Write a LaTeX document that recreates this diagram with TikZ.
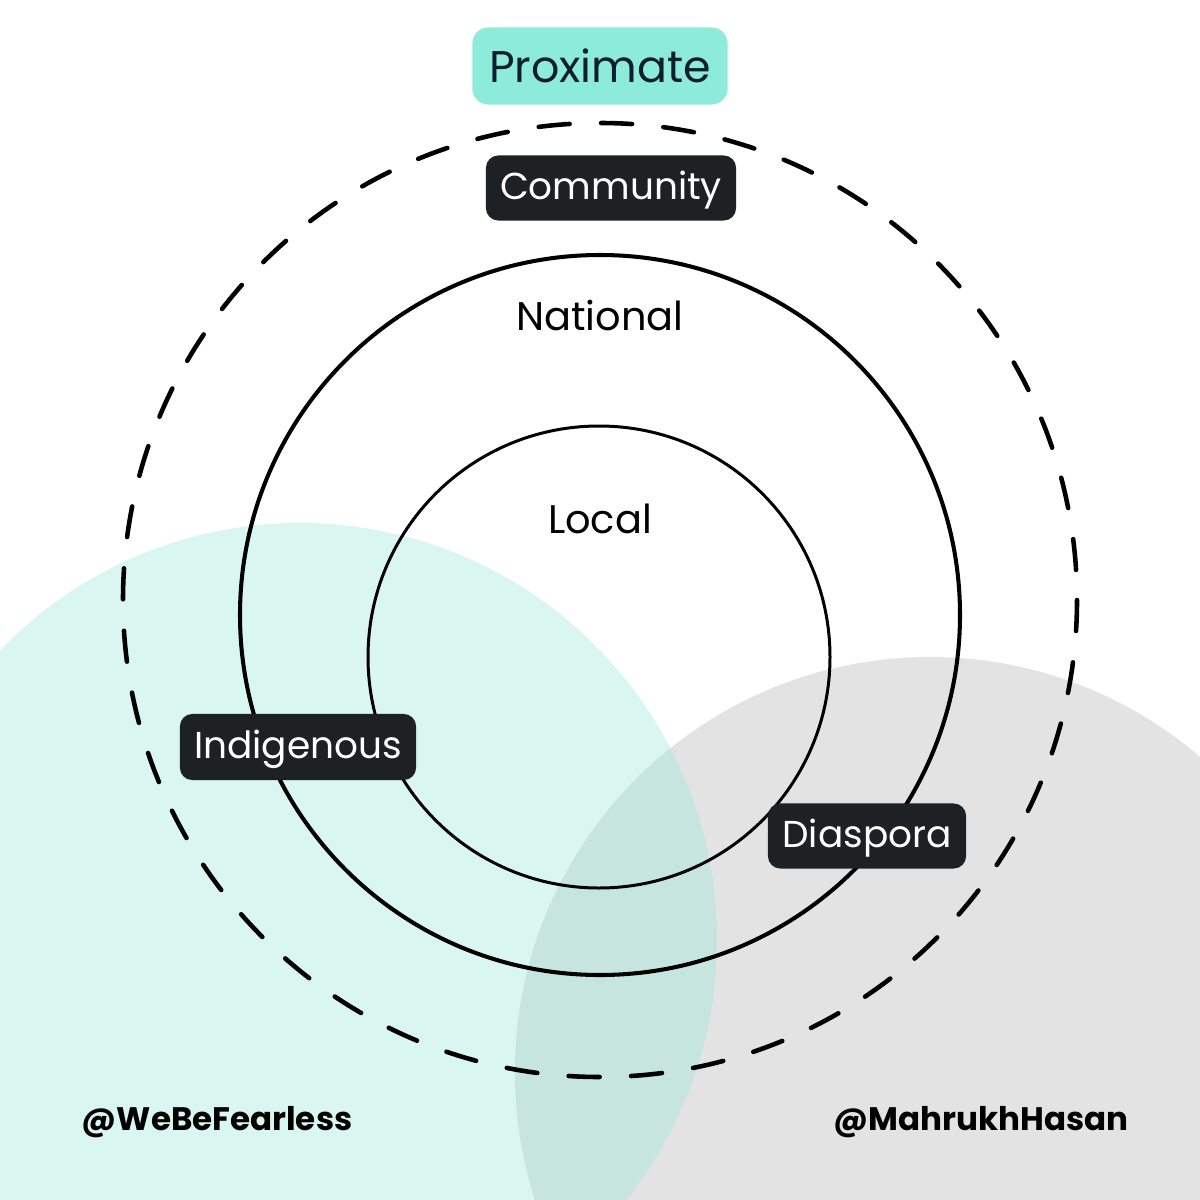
\documentclass[tikz,border=0pt]{standalone}
\usepackage{fontspec}
\setmainfont{Poppins}
\begin{document}
\begin{tikzpicture}[x=0.01cm,y=-0.01cm,
  darkbox/.style={fill=boxblack,text=white,rounded corners=3.5pt,inner sep=0pt,text height=0.9em,text depth=0.26em,font=\fontsize{10.65}{13}\selectfont},
  plain/.style={inner sep=0pt,font=\fontsize{11.35}{14}\selectfont},
  handle/.style={inner sep=0pt,font=\fontsize{9.25}{12}\selectfont\bfseries}]
\definecolor{tealbg}{HTML}{D9F6F1}
\definecolor{graybg}{HTML}{E3E3E3}
\definecolor{overlap}{HTML}{C6E5DF}
\definecolor{boxblack}{HTML}{1E2124}
\definecolor{proxfill}{HTML}{8DEBD9}
\definecolor{proxtext}{HTML}{0E1E2C}
\useasboundingbox (0,0) rectangle (1200,1200);
\begin{scope}
\clip (0,0) rectangle (1200,1200);
\fill[tealbg] (300,940) circle[radius=417];
\fill[graybg] (930,1072) circle[radius=415];
\begin{scope}
\clip (300,940) circle[radius=417];
\fill[overlap] (930,1072) circle[radius=415];
\end{scope}
\end{scope}
% circles
\draw[line width=1.3pt,dash pattern=on 0.31cm off 0.3144cm,line cap=round] (600,600) circle[radius=477];
\draw[line width=1.15pt] (600,615) circle[radius=360];
\draw[line width=0.85pt] (599,657) circle[radius=231];
% labels
\node[fill=proxfill,text=proxtext,rounded corners=4.5pt,inner sep=0pt,minimum width=2.55cm,minimum height=0.77cm,font=\fontsize{12.6}{15}\selectfont] (prox) at (600,66) {Proximate};
\node[darkbox,minimum width=2.5cm,minimum height=0.65cm] (comm) at (611,188) {Community};
\node[plain] (nat) at (600,315) {National};
\node[plain] (loc) at (600,519) {Local};
\node[darkbox,minimum width=2.36cm,minimum height=0.66cm] (ind) at (298,747) {Indigenous};
\node[darkbox,minimum width=1.98cm,minimum height=0.65cm] (dia) at (867,836) {Diaspora};
\node[handle] (web) at (217,1122) {@WeBeFearless};
\node[handle] (mah) at (981,1122) {@MahrukhHasan};
\end{tikzpicture}
\end{document}
